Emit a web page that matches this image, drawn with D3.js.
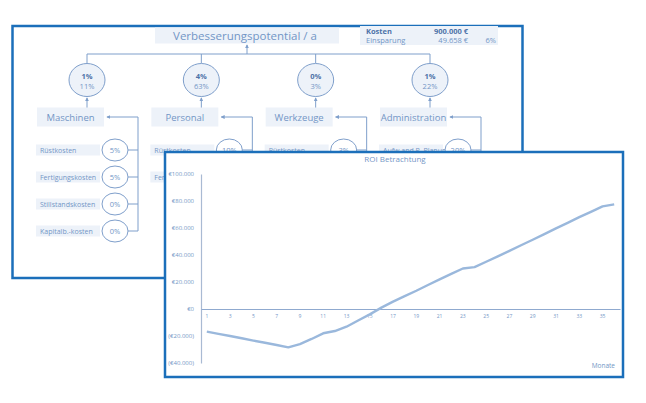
<!DOCTYPE html>
<html><head><meta charset="utf-8">
<script src="https://cdn.jsdelivr.net/npm/d3@7/dist/d3.min.js"></script>
<style>body{margin:0;background:#fff}svg{display:block}text{font-family:"Open Sans","Noto Sans",sans-serif}</style>
</head><body><svg id="c" width="646" height="403"></svg>
<script>
// ---- data ----
const title = "Verbesserungspotential / a";
const categories = ["Maschinen", "Personal", "Werkzeuge", "Administration"];
const catTop = ["1%", "4%", "0%", "1%"];
const catBottom = ["11%", "63%", "3%", "22%"];
const subLabels = [
  ["Rüstkosten", "Fertigungskosten", "Stillstandskosten", "Kapitalb.-kosten"],
  ["Rüstkosten", "Fertigungskosten"],
  ["Rüstkosten"],
  ["Aufw.and P. Planung"]
];
const subValues = [["5%", "5%", "0%", "0%"], ["10%", "5%"], ["3%"], ["20%"]];
const costLabels = ["Kosten", "Einsparung"];
const costValues = ["900.000 €", "49.658 €"];
const savingShare = "6%";

const roiTitle = "ROI Betrachtung";
const months = d3.range(1, 37);
const roi = [-16800, -18400, -20000, -21700, -23400, -25000, -26700, -28400, -26000, -22200,
  -18000, -16300, -13100, -8500, -4000, 1000, 5500, 9500, 13500, 17800,
  22000, 26000, 30000, 31000, 35000, 39000, 43000, 47200, 51300, 55500,
  59700, 63800, 68000, 72000, 76000, 77500];
const yTicks = [-40000, -20000, 0, 20000, 40000, 60000, 80000, 100000];
const xTickMonths = d3.range(1, 37, 2);
const xAxisLabel = "Monate";

// ---- styles ----
const BORDER = "#1b6fba", TXT = "#7396c6", DARK = "#4d72a8", FILLB = "#edf2f9", LINE = "#7f9fcb";
const svg = d3.select("#c");

// ---- back panel ----
const back = svg.append("g");
back.append("rect").attr("x", 12.5).attr("y", 26).attr("width", 510).attr("height", 252)
  .attr("fill", "#fff").attr("stroke", BORDER).attr("stroke-width", 2.5);

const defs = svg.append("defs");
defs.append("marker").attr("id", "ah").attr("viewBox", "0 0 6 6").attr("refX", 5).attr("refY", 3)
  .attr("markerWidth", 4).attr("markerHeight", 4).attr("orient", "auto")
  .append("path").attr("d", "M0,0L6,3L0,6Z").attr("fill", LINE);

const cx = d3.scalePoint().domain(categories).range([87, 430]);
const yCircle = 80, yCat = 117;
const ySub = d3.scalePoint().domain(d3.range(4)).range([150, 231]);

// title box
back.append("rect").attr("x", 155).attr("y", 27.5).attr("width", 184).attr("height", 16).attr("fill", FILLB);
back.append("text").attr("x", 245).attr("y", 39.5).attr("text-anchor", "middle")
  .attr("font-size", 11.5).attr("fill", TXT).text(title);
// connector
back.append("path").attr("d", `M${cx(categories[0])},${yCircle - 17}V54H${cx(categories[3])}V${yCircle - 17}`)
  .attr("fill", "none").attr("stroke", LINE).attr("stroke-width", 1);
back.append("path").attr("d", "M247,54V45").attr("stroke", LINE).attr("marker-end", "url(#ah)");
categories.slice(1, 3).forEach(c => back.append("path").attr("d", `M${cx(c)},54V${yCircle - 17}`).attr("stroke", LINE));

// cost box
back.append("rect").attr("x", 360).attr("y", 26).attr("width", 138).attr("height", 19).attr("fill", FILLB);
costLabels.forEach((l, i) => {
  const y = 33.5 + i * 9.5;
  const col = i === 0 ? DARK : TXT, fw = i === 0 ? "bold" : "normal";
  back.append("text").attr("x", 366).attr("y", y).attr("font-size", 7.5).attr("font-weight", fw).attr("fill", col).text(l);
  back.append("text").attr("x", 468).attr("y", y).attr("text-anchor", "end").attr("font-size", 7.5).attr("font-weight", fw).attr("fill", col).text(costValues[i]);
});
back.append("text").attr("x", 496).attr("y", 43).attr("text-anchor", "end").attr("font-size", 7.5).attr("fill", TXT).text(savingShare);

// categories
categories.forEach((c, i) => {
  const x = cx(c);
  const g = back.append("g");
  g.append("ellipse").attr("cx", x).attr("cy", yCircle).attr("rx", 18).attr("ry", 16.5)
    .attr("fill", FILLB).attr("stroke", LINE).attr("stroke-width", 1);
  g.append("text").attr("x", x).attr("y", yCircle - 1).attr("text-anchor", "middle").attr("font-size", 7.5)
    .attr("font-weight", "bold").attr("fill", DARK).text(catTop[i]);
  g.append("text").attr("x", x).attr("y", yCircle + 9).attr("text-anchor", "middle").attr("font-size", 7.5)
    .attr("fill", TXT).text(catBottom[i]);
  g.append("path").attr("d", `M${x},${yCat - 9}V${yCircle + 18}`).attr("stroke", LINE).attr("marker-end", "url(#ah)");
  g.append("rect").attr("x", x - 50).attr("y", yCat - 9.5).attr("width", 67).attr("height", 19).attr("fill", FILLB);
  g.append("text").attr("x", x - 16.5).attr("y", yCat + 3.5).attr("text-anchor", "middle").attr("font-size", 9.5)
    .attr("fill", TXT).text(c);
  const vx = x + 51;
  g.append("path").attr("d", `M${vx},${ySub(3)}V${yCat}H${x + 20}`).attr("fill", "none").attr("stroke", LINE).attr("marker-end", "url(#ah)");
  subLabels[i].forEach((s, j) => {
    const y = ySub(j);
    g.append("rect").attr("x", x - 51).attr("y", y - 5.5).attr("width", 64).attr("height", 11).attr("fill", FILLB);
    g.append("text").attr("x", x - 47).attr("y", y + 3).attr("font-size", 7).attr("fill", TXT).text(s);
    g.append("path").attr("d", `M${x + 41},${y}H${vx}`).attr("stroke", LINE);
    g.append("ellipse").attr("cx", x + 28).attr("cy", y).attr("rx", 13).attr("ry", 11)
      .attr("fill", "#fff").attr("stroke", LINE);
    g.append("text").attr("x", x + 28).attr("y", y + 3).attr("text-anchor", "middle").attr("font-size", 7.5)
      .attr("fill", TXT).text(subValues[i][j]);
  });
});

// ---- front panel ----
const front = svg.append("g");
front.append("rect").attr("x", 165).attr("y", 152).attr("width", 458).attr("height", 225)
  .attr("fill", "#fff").attr("stroke", BORDER).attr("stroke-width", 2.5);
front.append("text").attr("x", 395).attr("y", 162).attr("text-anchor", "middle").attr("font-size", 8)
  .attr("fill", TXT).text(roiTitle);

const x = d3.scaleBand().domain(months).range([201, 620]);
const y = d3.scaleLinear().domain([-40000, 100000]).range([363, 174]);
const loc = d3.formatLocale({decimal: ",", thousands: ".", grouping: [3], currency: ["€", ""]});
const fmt = loc.format("$,.0f");
const fy = v => v < 0 ? "(" + fmt(-v) + ")" : fmt(v);

const yAxis = front.append("g").attr("transform", "translate(201,0)")
  .call(d3.axisLeft(y).tickValues(yTicks).tickFormat(fy).tickSize(0).tickPadding(7));
yAxis.select(".domain").attr("stroke", "#a9bad3").attr("stroke-width", 1.2);
yAxis.selectAll("text").attr("font-size", 6).attr("fill", TXT).attr("font-family", "'Open Sans',sans-serif");

const xAxis = front.append("g").attr("transform", `translate(0,${y(0)})`)
  .call(d3.axisBottom(x).tickValues(xTickMonths).tickSize(0).tickPadding(5));
xAxis.select(".domain").attr("stroke", "#8fa9cf").attr("stroke-width", 1);
xAxis.selectAll("text").attr("font-size", 5).attr("fill", TXT).attr("font-family", "'Open Sans',sans-serif");

front.append("path").datum(roi)
  .attr("d", d3.line().x((d, i) => x(months[i]) + x.bandwidth() / 2).y(d => y(d)))
  .attr("fill", "none").attr("stroke", "#9ab8dc").attr("stroke-width", 2.4).attr("stroke-linejoin", "round");

front.append("text").attr("x", 615).attr("y", 368).attr("text-anchor", "end").attr("font-size", 6.5)
  .attr("fill", TXT).text(xAxisLabel);
</script></body></html>
